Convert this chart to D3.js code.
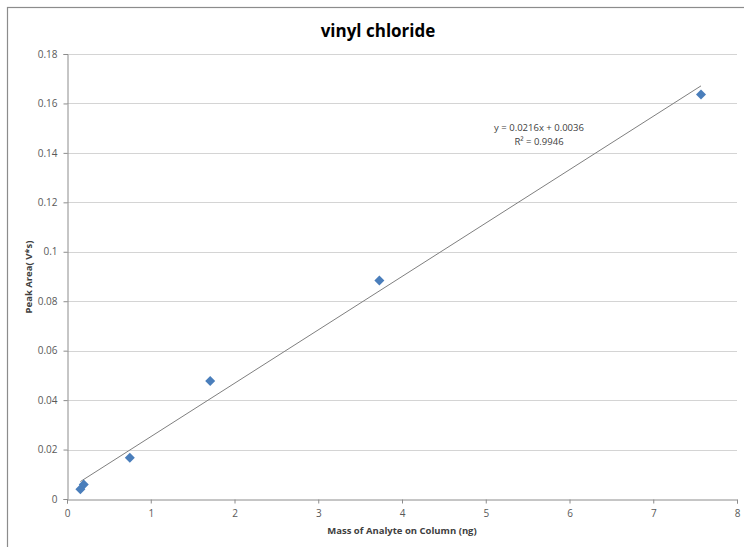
<!DOCTYPE html>
<html>
<head>
<meta charset="utf-8">
<script src="https://cdn.jsdelivr.net/npm/d3@7"></script>
<style>
  body { margin: 0; background: #fff; }
  text { font-family: "Open Sans", "Noto Sans", sans-serif; }
</style>
</head>
<body>
<svg id="chart" width="744" height="547"></svg>
<script>
// measured points, mass on column (ng) vs peak area (V*s)
var massNg = [0.16, 0.20, 0.75, 1.71, 3.73, 7.57];
var peakArea = [0.0039, 0.0059, 0.0167, 0.0477, 0.0884, 0.1636];
var xTicks = [0, 1, 2, 3, 4, 5, 6, 7, 8];
var yTicks = [0, 0.02, 0.04, 0.06, 0.08, 0.1, 0.12, 0.14, 0.16, 0.18];
var slope = 0.0216;
var intercept = 0.0036;
var eqLines = ['y = 0.0216x + 0.0036', 'R\u00b2 = 0.9946'];

var svg = d3.select('#chart');
var plot = { left: 67, right: 737, top: 54, bottom: 499 };

var x = d3.scaleLinear().domain([0, 8]).range([plot.left, plot.right]);
var y = d3.scaleLinear().domain([0, 0.18]).range([plot.bottom, plot.top]);

// chart area border (only top/left visible in the crop)
svg.append('rect')
  .attr('x', 7.5)
  .attr('y', 7.5)
  .attr('width', 760)
  .attr('height', 560)
  .attr('fill', 'none')
  .attr('stroke', '#8c8c8c')
  .attr('stroke-width', 1.2);

// gridlines
svg.append('g')
  .selectAll('line')
  .data(yTicks.slice(1))
  .enter().append('line')
  .attr('x1', plot.left)
  .attr('x2', plot.right)
  .attr('y1', function(d) { return Math.round(y(d)) + 0.5; })
  .attr('y2', function(d) { return Math.round(y(d)) + 0.5; })
  .attr('stroke', '#d4d4d4')
  .attr('stroke-width', 1);

var xAxis = svg.append('g')
  .attr('transform', 'translate(0,' + (plot.bottom + 0.5) + ')')
  .call(d3.axisBottom(x).tickValues(xTicks).tickSize(4).tickPadding(6).tickFormat(d3.format('d')));

var yAxis = svg.append('g')
  .attr('transform', 'translate(' + (plot.left + 0.5) + ',0)')
  .call(d3.axisLeft(y).tickValues(yTicks).tickSize(4).tickPadding(6)
    .tickFormat(function(d) { return d === 0 ? '0' : d3.format('.2~f')(d); }));

[xAxis, yAxis].forEach(function(ax) {
  ax.select('.domain').attr('stroke', '#8c8c8c');
  ax.selectAll('.tick line').attr('stroke', '#8c8c8c');
  ax.selectAll('.tick text')
    .attr('fill', '#595959')
    .style('font-size', '10px');
});

// trendline over the range of the data
var xMin = d3.min(massNg), xMax = d3.max(massNg);
svg.append('line')
  .attr('x1', x(xMin))
  .attr('y1', y(slope * xMin + intercept))
  .attr('x2', x(xMax))
  .attr('y2', y(slope * xMax + intercept))
  .attr('stroke', '#7f7f7f')
  .attr('stroke-width', 1);

// diamond markers
svg.append('g')
  .selectAll('path')
  .data(massNg)
  .enter().append('path')
  .attr('d', 'M0,-5L5,0L0,5L-5,0Z')
  .attr('transform', function(d, i) { return 'translate(' + x(d) + ',' + y(peakArea[i]) + ')'; })
  .attr('fill', '#4a7ebb');

// equation label
svg.append('text')
  .attr('x', 539)
  .attr('y', 131)
  .attr('text-anchor', 'middle')
  .attr('fill', '#404040')
  .style('font-size', '9.5px')
  .text(eqLines[0]);

svg.append('text')
  .attr('x', 539)
  .attr('y', 145)
  .attr('text-anchor', 'middle')
  .attr('fill', '#404040')
  .style('font-size', '9.5px')
  .text(eqLines[1]);

// titles
svg.append('text')
  .attr('x', 378)
  .attr('y', 37)
  .attr('text-anchor', 'middle')
  .attr('fill', '#000')
  .style('font-size', '17px')
  .style('font-weight', 'bold')
  .text('vinyl chloride');

svg.append('text')
  .attr('x', 402)
  .attr('y', 534)
  .attr('text-anchor', 'middle')
  .attr('fill', '#404040')
  .style('font-size', '9.5px')
  .style('font-weight', 'bold')
  .text('Mass of Analyte on Column (ng)');

svg.append('text')
  .attr('transform', 'translate(32,277) rotate(-90)')
  .attr('text-anchor', 'middle')
  .attr('fill', '#404040')
  .style('font-size', '9.5px')
  .style('font-weight', 'bold')
  .text('Peak Area( V*s)');
</script>
</body>
</html>
